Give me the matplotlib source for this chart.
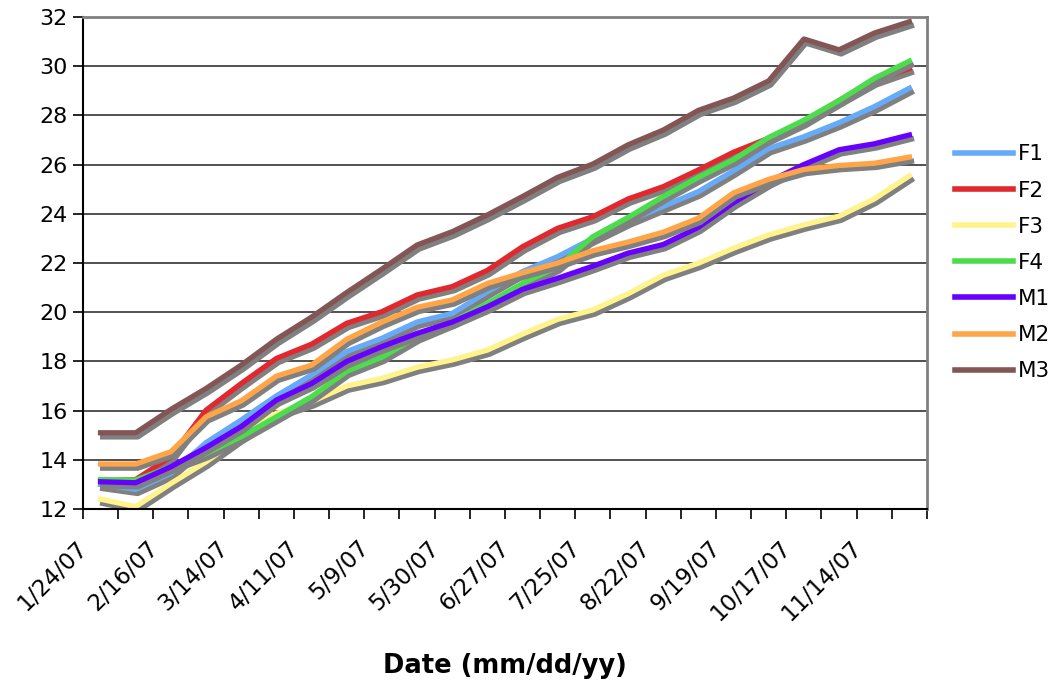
import numpy as np
import matplotlib.pyplot as plt
import matplotlib.patheffects as pe
from matplotlib.transforms import ScaledTranslation

# fechas de medida (solo se rotulan una de cada dos)
dates = ['1/24/07', '2/2/07', '2/16/07', '3/1/07', '3/14/07', '3/28/07',
         '4/11/07', '4/25/07', '5/9/07', '5/16/07', '5/30/07', '6/13/07',
         '6/27/07', '7/11/07', '7/25/07', '8/8/07', '8/22/07', '9/5/07',
         '9/19/07', '10/3/07', '10/17/07', '10/31/07', '11/14/07', '11/28/07']

F1 = [13.0, 12.8, 13.45, 14.7, 15.62, 16.6, 17.45, 18.4, 18.94, 19.6, 19.95, 20.83,
      21.65, 22.26, 23.0, 23.7, 24.3, 24.9, 25.75, 26.65, 27.13, 27.7, 28.35, 29.1]
F2 = [13.15, 13.2, 14.13, 16.02, 17.1, 18.12, 18.7, 19.55, 20.02, 20.7, 21.04, 21.7,
      22.66, 23.41, 23.88, 24.6, 25.1, 25.78, 26.5, 27.07, 27.75, 28.6, 29.4, 29.9]
F3 = [12.4, 12.1, 13.04, 13.92, 14.94, 15.89, 16.36, 17.0, 17.31, 17.76, 18.06, 18.46,
      19.11, 19.71, 20.09, 20.75, 21.5, 21.99, 22.6, 23.14, 23.55, 23.9, 24.6, 25.54]
F4 = [13.2, 13.18, 13.72, 14.26, 14.94, 15.75, 16.57, 17.6, 18.17, 19.0, 19.6, 20.36,
      21.17, 21.85, 23.07, 23.85, 24.7, 25.48, 26.2, 27.1, 27.8, 28.6, 29.5, 30.2]
M1 = [13.11, 13.07, 13.72, 14.5, 15.35, 16.43, 17.1, 18.0, 18.6, 19.14, 19.6, 20.22,
      20.93, 21.38, 21.87, 22.4, 22.75, 23.45, 24.45, 25.3, 26.0, 26.6, 26.84, 27.2]
M2 = [13.83, 13.83, 14.33, 15.75, 16.4, 17.4, 17.85, 18.9, 19.6, 20.2, 20.5, 21.17,
      21.6, 22.0, 22.5, 22.85, 23.25, 23.82, 24.85, 25.4, 25.8, 25.96, 26.05, 26.3]
M3 = [15.1, 15.1, 16.05, 16.9, 17.85, 18.9, 19.8, 20.8, 21.75, 22.73, 23.27, 23.95,
      24.7, 25.48, 26.02, 26.8, 27.4, 28.2, 28.7, 29.4, 31.1, 30.66, 31.34, 31.8]

names = ['F1', 'F2', 'F3', 'F4', 'M1', 'M2', 'M3']
series = [F1, F2, F3, F4, M1, M2, M3]
colors = ['#66AAF8', '#E0282E', '#FFF38C', '#4CDD4C', '#6600FF', '#FFA548', '#845555']

x = np.arange(len(dates))

fig = plt.figure(figsize=(10.57, 6.87), dpi=100)
ax = fig.add_axes([0.0785, 0.259, 0.7985, 0.7165])

sombra = [pe.SimpleLineShadow(offset=(1.5, -3), shadow_color='#808080', alpha=1.0),
          pe.Normal()]
for nombre, y, c in zip(names, series, colors):
    ax.plot(x, y, color=c, lw=3.8, label=nombre, solid_joinstyle='round',
            path_effects=sombra)

ax.set_ylim(12, 32)
ax.set_yticks(np.arange(12, 33, 2))
ax.grid(axis='y', color='#222222', lw=1.1)
ax.set_axisbelow(True)

# marcas entre categorias, sin etiquetas de eje
ax.set_xticks(np.arange(-0.5, len(dates), 1.0))
ax.set_xticklabels([])
ax.set_xlim(-0.5, len(dates) - 0.5)
ax.tick_params(axis='x', length=7, width=1.2, direction='out')
ax.tick_params(axis='y', length=7, width=1.2, labelsize=16, pad=4)

# fechas giradas, una de cada dos, terminando un poco a la izquierda del centro
desplaza = ax.get_xaxis_transform() + ScaledTranslation(-0.246, -0.27, fig.dpi_scale_trans)
for xi, d in zip(x[::2], dates[::2]):
    ax.text(xi, 0, d, transform=desplaza, rotation=45, ha='right', va='top',
            rotation_mode='anchor', fontsize=16.5)

for s in ['left', 'bottom']:
    ax.spines[s].set_color('black')
    ax.spines[s].set_linewidth(1.5)
for s in ['top', 'right']:
    ax.spines[s].set_color('#808080')
    ax.spines[s].set_linewidth(2)

ax.set_xlabel('Date (mm/dd/yy)', fontsize=18.5, fontweight='bold')
ax.xaxis.set_label_coords(0.5, -0.293)

leg = ax.legend(loc='upper left', bbox_to_anchor=(0.8855, 0.818), bbox_transform=fig.transFigure,
                frameon=False, fontsize=15.5, handlelength=2.7, handletextpad=0.2,
                labelspacing=0.75)
for h in leg.get_lines():
    h.set_linewidth(4)
    h.set_path_effects([])

fig.savefig('out.png', dpi=100)
